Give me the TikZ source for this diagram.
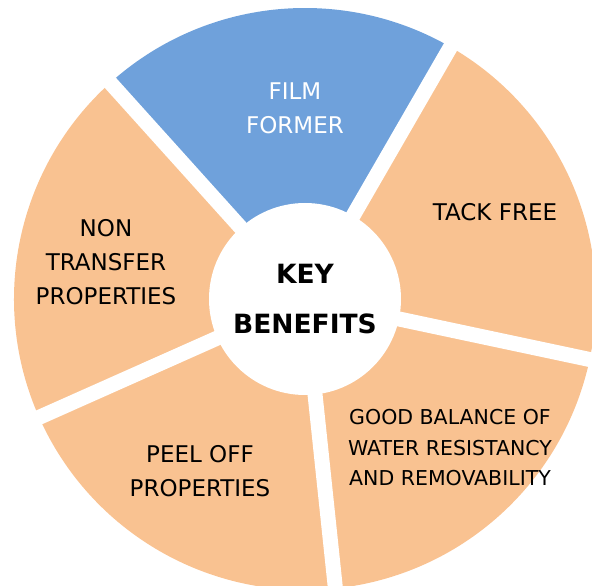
\documentclass[tikz,border=0pt]{standalone}
\usepackage{fontspec}
\setmainfont{DejaVu Sans}
\usetikzlibrary{positioning}

\definecolor{peach}{RGB}{249,194,145}
\definecolor{filmblue}{RGB}{111,161,219}

\tikzset{
  slice/.style={fill=peach},
  gapline/.style={draw=white,line width=15pt},
  label/.style={align=center,font=\fontsize{23}{34}\selectfont},
  smalllabel/.style={align=center,font=\fontsize{20.5}{30.5}\selectfont}
}

\begin{document}
\begin{tikzpicture}
\useasboundingbox (-305pt,-287pt) rectangle (287pt,299pt);
\clip (-305pt,-287pt) rectangle (287pt,299pt);
% Define the centre and the ends of the gaps

\path (0,0) coordinate (origin);
\path (60:330pt) coordinate (G0);
\path (132:330pt) coordinate (G1);
\path (204:330pt) coordinate (G2);
\path (276:330pt) coordinate (G3);
\path (348:330pt) coordinate (G4);

% Draw the slices
\fill[slice,fill=filmblue] (origin) -- (60:291pt) arc (60:132:291pt) -- cycle;
\fill[slice] (origin) -- (132:291pt) arc (132:204:291pt) -- cycle;
\fill[slice] (origin) -- (204:291pt) arc (204:276:291pt) -- cycle;
\fill[slice] (origin) -- (276:291pt) arc (276:348:291pt) -- cycle;
\fill[slice] (origin) -- (348:291pt) arc (348:420:291pt) -- cycle;

% White gaps and the hub
\draw[gapline] (origin) -- (G0) (origin) -- (G1) (origin) -- (G2) (origin) -- (G3) (origin) -- (G4);
\fill[white] (origin) circle (96pt);

% Texts
\node[label,text=white] (film) at (-10pt,191pt) {FILM\\FORMER};
\node[label] (tack) at (190pt,87pt) {TACK FREE};
\node[label] (nontransfer) at (-199pt,37pt) {NON\\TRANSFER\\PROPERTIES};
\node[label] (peel) at (-105pt,-172pt) {PEEL OFF\\PROPERTIES};
\node[smalllabel] (balance) at (145pt,-149pt) {GOOD BALANCE OF\\WATER RESISTANCY\\AND REMOVABILITY};
\node[align=center,font=\fontsize{26.5}{50}\selectfont\bfseries] (key) at (origin) {KEY\\BENEFITS};
\end{tikzpicture}
\end{document}
